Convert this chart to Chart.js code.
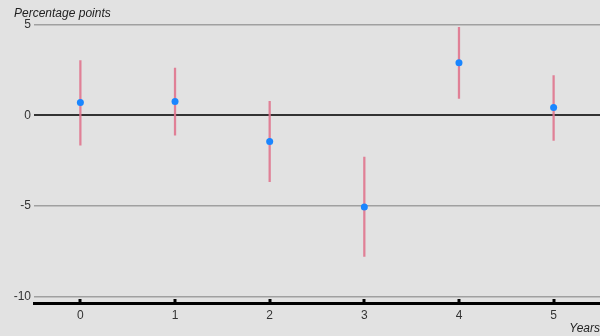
<!DOCTYPE html>
<html>
<head>
<meta charset="utf-8">
<script src="https://cdn.jsdelivr.net/npm/chart.js@4"></script>
<style>
html,body{margin:0;padding:0;background:#e2e2e2;}
#wrap{width:600px;height:336px;position:relative;}
</style>
</head>
<body>
<div id="wrap"><canvas id="c" width="600" height="336"></canvas></div>
<script>
const years = [0, 1, 2, 3, 4, 5];
const estimates = [0.70, 0.75, -1.44, -5.05, 2.89, 0.42];
const upper = [3.01, 2.59, 0.77, -2.30, 4.84, 2.18];
const lower = [-1.64, -1.10, -3.66, -7.77, 0.92, -1.39];
const yTicks = [-10, -5, 0, 5];
const yTitle = 'Percentage points';
const xTitle = 'Years';

const tickSquares = {
  id: 'tickSquares',
  afterDatasetsDraw(chart) {
    const ctx = chart.ctx, xs = chart.scales.x, area = chart.chartArea;
    ctx.save();
    ctx.fillStyle = '#000';
    years.forEach(v => {
      const px = Math.round(xs.getPixelForValue(v));
      ctx.fillRect(px - 1.5, Math.round(area.bottom) - 5, 3, 5);
    });
    ctx.restore();
  }
};

new Chart(document.getElementById('c'), {
  data: {
    datasets: [
      {
        type: 'bar',
        data: years.map((x, i) => ({x: x, y: [lower[i], upper[i]]})),
        backgroundColor: 'rgba(224,118,142,0.9)',
        borderWidth: 0,
        barThickness: 1.6,
        order: 2
      },
      {
        type: 'scatter',
        data: years.map((x, i) => ({x: x, y: estimates[i]})),
        backgroundColor: '#1a86ff',
        borderWidth: 0,
        pointRadius: 3.5,
        order: 1
      }
    ]
  },
  plugins: [tickSquares],
  options: {
    responsive: false,
    animation: false,
    devicePixelRatio: 1,
    layout: {autoPadding: false, padding: {left: 14, right: 0, top: 0, bottom: 0}},
    plugins: {
      legend: {display: false},
      tooltip: {enabled: false},
      title: {
        display: true,
        text: yTitle,
        align: 'start',
        color: '#222',
        font: {family: 'Liberation Sans, Arial, sans-serif', size: 12, style: 'italic', weight: 'normal'},
        padding: {top: 6, bottom: 4}
      }
    },
    scales: {
      x: {
        type: 'linear',
        offset: false,
        min: -0.49,
        max: 5.49,
        afterBuildTicks(s) { s.ticks = years.map(v => ({value: v})); },
        afterFit(s) { s.height = 32.5; },
        grid: {display: false, drawTicks: false},
        border: {display: true, color: '#000', width: 3},
        ticks: {
          color: '#333',
          padding: 5,
          font: {family: 'Liberation Sans, Arial, sans-serif', size: 12}
        },
        title: {
          display: true,
          text: xTitle,
          align: 'end',
          color: '#222',
          font: {family: 'Liberation Sans, Arial, sans-serif', size: 12, style: 'italic'},
          padding: {top: 0, bottom: 0}
        }
      },
      y: {
        type: 'linear',
        min: -10.36,
        max: 5,
        afterBuildTicks(s) { s.ticks = yTicks.map(v => ({value: v})); },
        afterFit(s) { s.width = 20; },
        grid: {
          drawTicks: false,
          color: c => (c.tick && c.tick.value === 0) ? '#333' : '#a0a0a0',
          lineWidth: c => (c.tick && c.tick.value === 0) ? 2 : 1.5
        },
        border: {display: false},
        ticks: {
          color: '#333',
          padding: 3,
          font: {family: 'Liberation Sans, Arial, sans-serif', size: 12}
        }
      }
    }
  }
});
</script>
</body>
</html>
